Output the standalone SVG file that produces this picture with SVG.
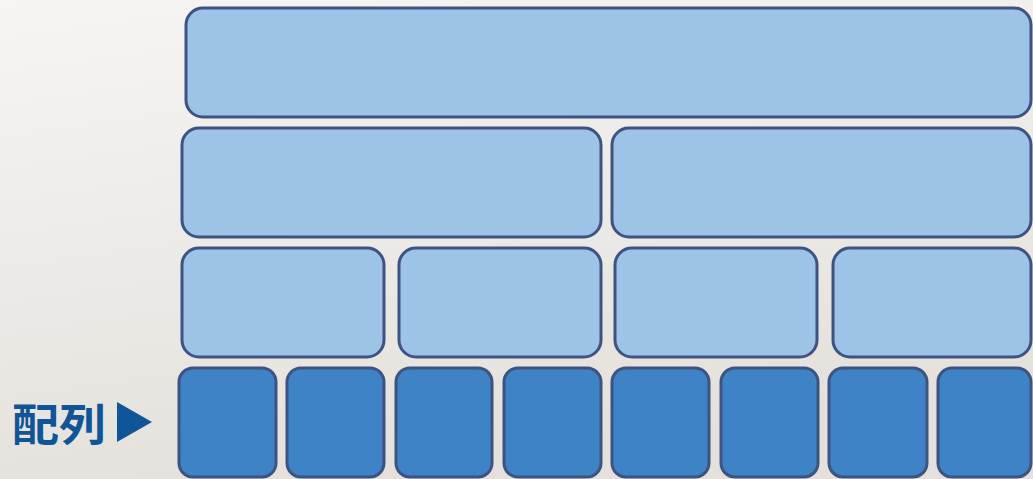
<svg xmlns="http://www.w3.org/2000/svg" width="1033" height="479" viewBox="0 0 1033 479">
<defs>
<linearGradient id="bg" x1="0" y1="0" x2="0.3" y2="1">
<stop offset="0" stop-color="#f6f5f3"/>
<stop offset="1" stop-color="#e4e1dc"/>
</linearGradient>
<style>
.l{fill:#9dc3e7;stroke:#3f5383;stroke-width:3}
.d{fill:#3e83c5;stroke:#3f5383;stroke-width:3}
.t{font-family:"Noto Sans CJK JP","Noto Sans CJK SC",sans-serif;font-weight:bold;font-size:44px;fill:#105598}
</style>
</defs>
<rect width="1033" height="479" fill="url(#bg)"/>
<g id="row1"><rect id="n1" class="l" x="186" y="8" width="845" height="109" rx="17"/></g>
<g id="row2">
<rect class="l" x="182" y="128" width="419" height="109" rx="17"/>
<rect class="l" x="612" y="128" width="419" height="109" rx="17"/>
</g>
<g id="row3">
<rect class="l" x="182" y="248" width="202" height="109" rx="17"/>
<rect class="l" x="399" y="248" width="202" height="109" rx="17"/>
<rect class="l" x="615" y="248" width="202" height="109" rx="17"/>
<rect class="l" x="833" y="248" width="198" height="109" rx="17"/>
</g>
<g id="row4">
<rect class="d" x="179" y="368" width="97" height="109" rx="14"/>
<rect class="d" x="287" y="368" width="97" height="109" rx="14"/>
<rect class="d" x="396" y="368" width="96" height="109" rx="14"/>
<rect class="d" x="504" y="368" width="97" height="109" rx="14"/>
<rect class="d" x="612" y="368" width="97" height="109" rx="14"/>
<rect class="d" x="721" y="368" width="97" height="109" rx="14"/>
<rect class="d" x="829" y="368" width="98" height="109" rx="14"/>
<rect class="d" x="938" y="368" width="93" height="109" rx="14"/>
</g>
<g id="label">
<text class="t" x="12" y="441" textLength="94" lengthAdjust="spacingAndGlyphs">配列</text>
<polygon points="117,402 152,422 117,442" fill="#105598"/>
</g>
<g id="connectors"/>
</svg>
